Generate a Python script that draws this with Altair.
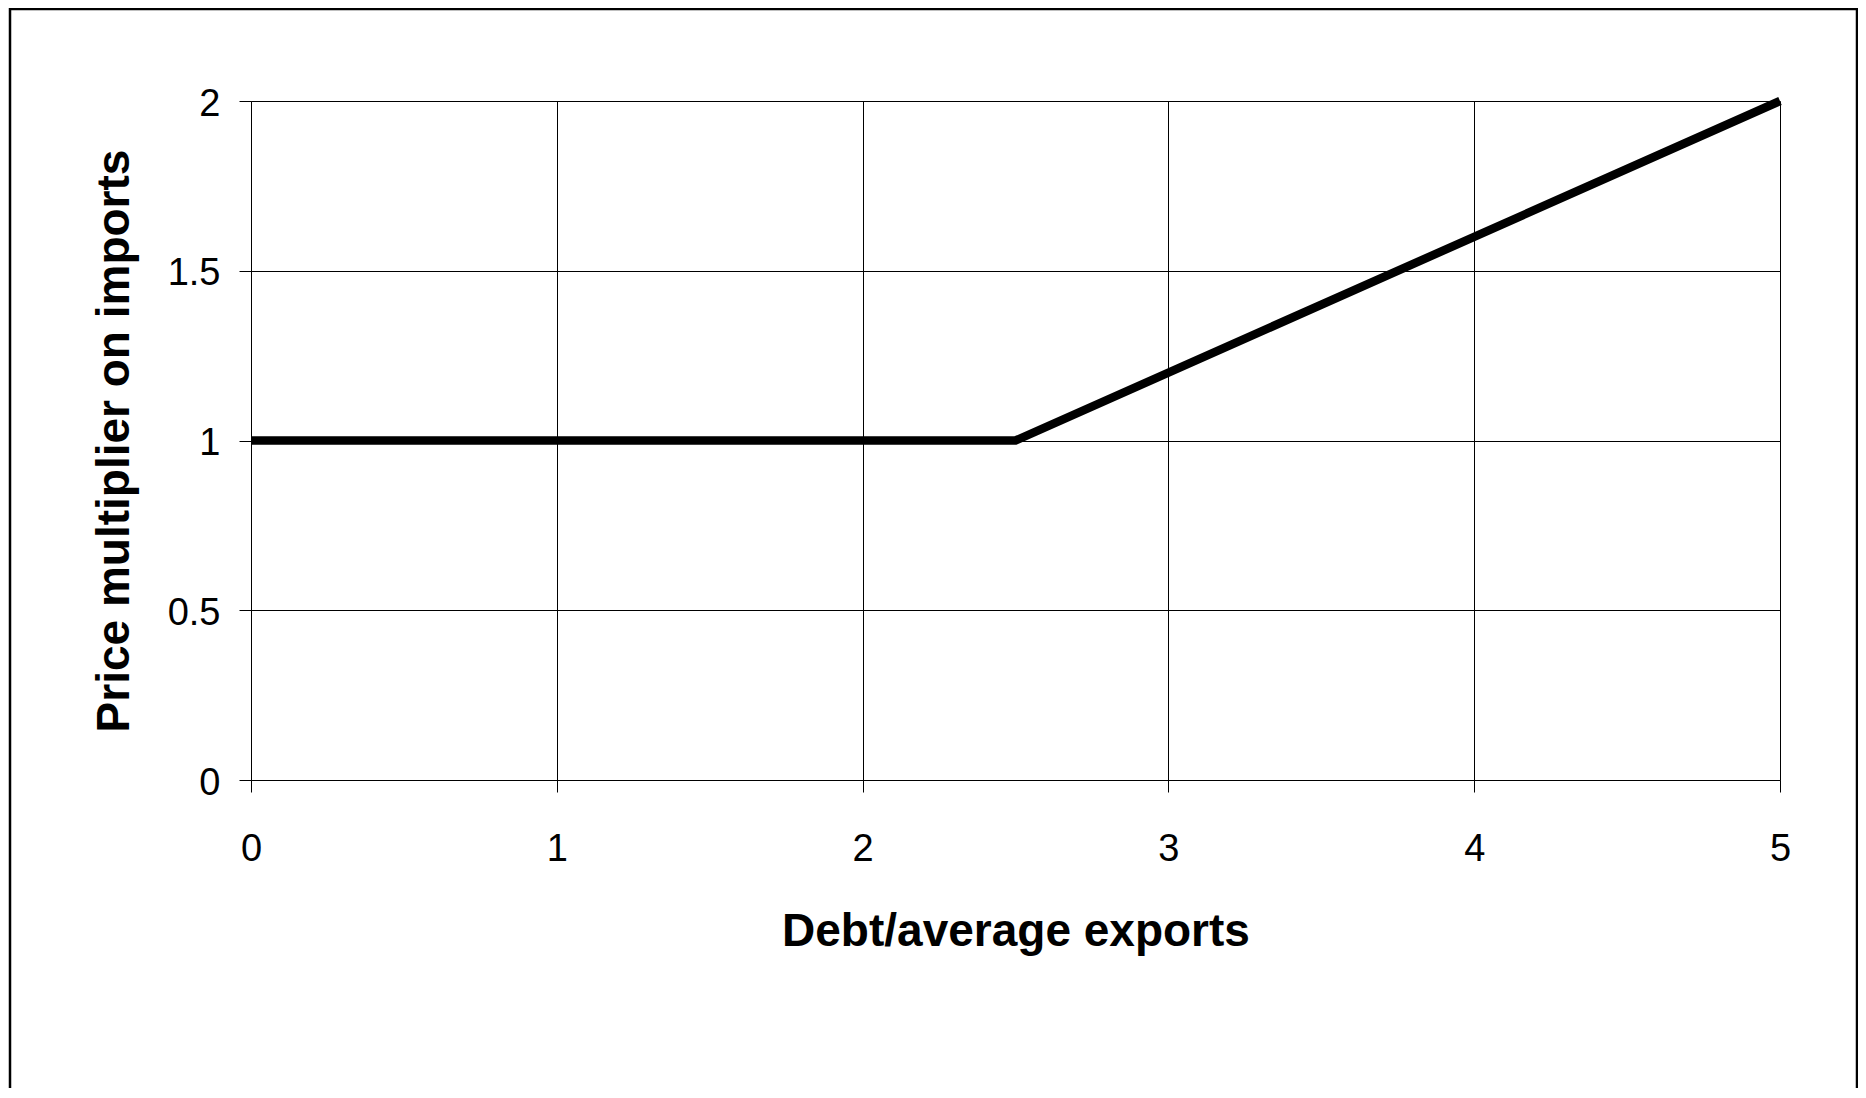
import altair as alt
import pandas as pd

# Data
debt_ratio = [0, 2.5, 5]
price_multiplier = [1, 1, 2]
x_ticks = [0, 1, 2, 3, 4, 5]
y_ticks = [0, 0.5, 1, 1.5, 2]

df = pd.DataFrame({"x": debt_ratio, "y": price_multiplier})

FONT = "Liberation Sans"
W, H = 1529, 679

line = alt.Chart(df).mark_line(color="black", strokeWidth=8.5, strokeCap="butt", strokeJoin="miter").encode(
    x=alt.X(
        "x:Q",
        scale=alt.Scale(domain=[0, 5], nice=False, zero=False),
        axis=alt.Axis(
            values=x_ticks,
            format="d",
            title="Debt/average exports",
            titleFontSize=46,
            titleFont=FONT,
            titleFontWeight="bold",
            titleColor="black",
            titleBaseline="alphabetic",
            titleX=W / 2,
            titleY=165,
            labelFont=FONT,
            labelFontSize=38,
            labelColor="black",
            labelBaseline="alphabetic",
            labelPadding=68,
            tickSize=12,
            tickColor="black",
            domainColor="black",
            gridColor="black",
            gridWidth=1,
            labelFlush=False,
            labelOverlap=False,
        ),
    ),
    y=alt.Y(
        "y:Q",
        scale=alt.Scale(domain=[0, 2], nice=False, zero=False),
        axis=alt.Axis(
            values=y_ticks,
            format="~g",
            title="Price multiplier on imports",
            titleFontSize=46,
            titleFont=FONT,
            titleFontWeight="bold",
            titleColor="black",
            titleBaseline="alphabetic",
            titleAngle=270,
            titleX=-123,
            titleY=H / 2,
            labelFont=FONT,
            labelFontSize=38,
            labelColor="black",
            labelBaseline="middle",
            labelOffset=3,
            labelPadding=19,
            tickSize=12,
            tickColor="black",
            domainColor="black",
            gridColor="black",
            gridWidth=1,
            labelFlush=False,
            labelOverlap=False,
        ),
    ),
)

frame_df = pd.DataFrame({"f": [0]})
frame = alt.Chart(frame_df).mark_rect(fill=None, stroke="black", strokeWidth=2.5, clip=False).encode(
    x=alt.value(-241),
    x2=alt.value(1606),
    y=alt.value(-92),
    y2=alt.value(1100),
)

chart = (
    alt.layer(frame, line)
    .properties(
        width=W,
        height=H,
        autosize=alt.AutoSizeParams(type="none"),
        padding={"left": 243, "top": 93, "right": 78, "bottom": 308},
    )
    .configure_view(stroke="black", strokeWidth=1)
    .configure(background="white")
)

chart.save("out.html", embed_options={"renderer": "svg", "actions": False})
